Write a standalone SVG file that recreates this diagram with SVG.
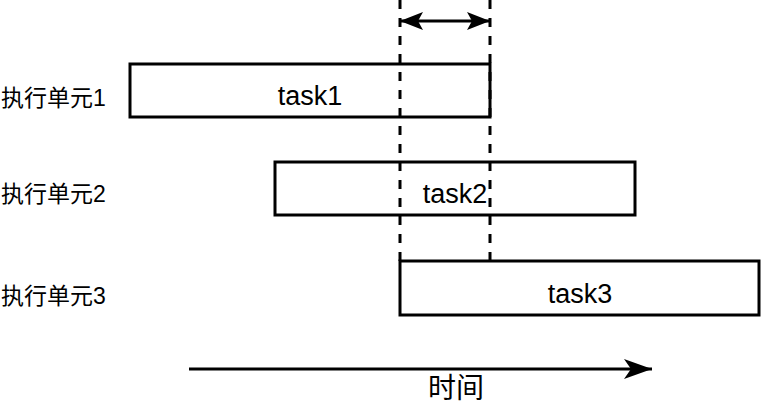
<svg xmlns="http://www.w3.org/2000/svg" width="761" height="406" viewBox="0 0 761 406">
<style>
.box{fill:#fff;stroke:#000;stroke-width:3}
.t{font-family:"Liberation Sans",Arial,sans-serif;font-size:27px;fill:#000;text-anchor:middle}
.lbl{font-family:"Liberation Sans","Noto Sans CJK SC",sans-serif;font-size:23px;fill:#000}
.dash{stroke:#000;stroke-width:3;stroke-dasharray:9 9;fill:none}
.ln{stroke:#000;stroke-width:3;fill:none}
</style>
<defs>
<marker id="ah" viewBox="0 0 23 18" refX="23" refY="9" markerWidth="23" markerHeight="18" markerUnits="userSpaceOnUse" orient="auto-start-reverse">
<path d="M0,0 L23,9 L0,18 L5,9 Z" fill="#000"/>
</marker>
<marker id="ah2" viewBox="0 0 28 20" refX="28" refY="10" markerWidth="28" markerHeight="20" markerUnits="userSpaceOnUse" orient="auto">
<path d="M0,0 L28,10 L0,20 L7,10 Z" fill="#000"/>
</marker>
</defs>
<g id="label1"><text class="lbl" x="1" y="106">执行单元1</text></g>
<g id="label2"><text class="lbl" x="1" y="202">执行单元2</text></g>
<g id="label3"><text class="lbl" x="1" y="304">执行单元3</text></g>
<g id="task1"><rect class="box" x="130" y="64" width="360" height="53"/><text class="t" x="310" y="105">task1</text></g>
<g id="task2"><rect class="box" x="275" y="162" width="360" height="53"/><text class="t" x="455" y="203">task2</text></g>
<g id="task3"><rect class="box" x="400" y="261" width="359" height="54"/><text class="t" x="580" y="303">task3</text></g>
<g id="connectors">
<line class="dash" x1="400" y1="0" x2="400" y2="261"/>
<line class="dash" x1="490" y1="0" x2="490" y2="262"/>
<line class="ln" x1="400" y1="21" x2="490" y2="21" marker-start="url(#ah)" marker-end="url(#ah)"/>
<line class="ln" x1="189" y1="369" x2="652" y2="369" marker-end="url(#ah2)"/>
</g>
<g id="axis-label"><text class="lbl" x="456" y="398" style="font-size:28px;text-anchor:middle">时间</text></g>
</svg>
